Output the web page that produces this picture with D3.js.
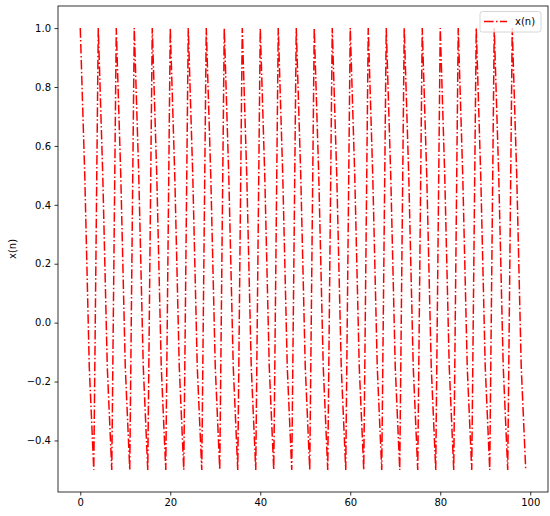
<!DOCTYPE html>
<html>
<head>
<meta charset="utf-8">
<script src="https://cdn.jsdelivr.net/npm/d3@7"></script>
<style>
  html, body { margin: 0; padding: 0; background: #ffffff; }
  svg { display: block; font-family: "DejaVu Sans", sans-serif; }
</style>
</head>
<body>
<div id="chart"></div>
<script>
// Sample values (period of 4 samples)
const xValues = [
  1.0, 0.5, -0.15, -0.5, 1.0, 0.5, -0.15, -0.5, 1.0, 0.5, -0.15, -0.5,
  1.0, 0.5, -0.15, -0.5, 1.0, 0.5, -0.15, -0.5, 1.0, 0.5, -0.15, -0.5,
  1.0, 0.5, -0.15, -0.5, 1.0, 0.5, -0.15, -0.5, 1.0, 0.5, -0.15, -0.5,
  1.0, 0.5, -0.15, -0.5, 1.0, 0.5, -0.15, -0.5, 1.0, 0.5, -0.15, -0.5,
  1.0, 0.5, -0.15, -0.5, 1.0, 0.5, -0.15, -0.5, 1.0, 0.5, -0.15, -0.5,
  1.0, 0.5, -0.15, -0.5, 1.0, 0.5, -0.15, -0.5, 1.0, 0.5, -0.15, -0.5,
  1.0, 0.5, -0.15, -0.5, 1.0, 0.5, -0.15, -0.5, 1.0, 0.5, -0.15, -0.5,
  1.0, 0.5, -0.15, -0.5, 1.0, 0.5, -0.15, -0.5, 1.0, 0.5, -0.15, -0.5,
  1.0, 0.5, -0.15, -0.5
];
const xTicks = [0, 20, 40, 60, 80, 100];
const yTicks = [-0.4, -0.2, 0.0, 0.2, 0.4, 0.6, 0.8, 1.0];
const seriesName = "x(n)";
const yLabel = "x(n)";

const width = 550, height = 516;
const margin = { top: 6, right: 2, bottom: 24, left: 58 };

const svg = d3.select("#chart").append("svg")
    .attr("width", width)
    .attr("height", height);

const n = xValues.length;
const xPad = (n - 1) * 0.05;
const yMin = d3.min(xValues), yMax = d3.max(xValues);
const yPad = (yMax - yMin) * 0.05;

const x = d3.scaleLinear()
    .domain([-xPad, (n - 1) + xPad])
    .range([margin.left, width - margin.right]);
const y = d3.scaleLinear()
    .domain([yMin - yPad, yMax + yPad])
    .range([height - margin.bottom, margin.top]);

const fmtMinus = s => s.replace("-", "\u2212");

// Axes
const xAxis = svg.append("g")
    .attr("transform", `translate(0,${height - margin.bottom})`)
    .call(d3.axisBottom(x).tickValues(xTicks).tickSize(3.5).tickPadding(3.5).tickFormat(d3.format("d")));
const yAxis = svg.append("g")
    .attr("transform", `translate(${margin.left},0)`)
    .call(d3.axisLeft(y).tickValues(yTicks).tickSize(3.5).tickPadding(3.5)
        .tickFormat(d => fmtMinus(d3.format(".1f")(d))));

[xAxis, yAxis].forEach(a => {
    a.select(".domain").remove();
    a.selectAll(".tick line").attr("stroke", "#000").attr("stroke-width", 0.8);
    a.selectAll(".tick text")
        .attr("fill", "#000")
        .attr("font-size", "10px")
        .attr("font-family", "DejaVu Sans, sans-serif");
});

// Line
const line = d3.line()
    .x((d, i) => x(i))
    .y(d => y(d));

svg.append("path")
    .datum(xValues)
    .attr("fill", "none")
    .attr("stroke", "#ff0000")
    .attr("stroke-width", 1.5)
    .attr("stroke-dasharray", "9.6,2.4,1.5,2.4")
    .attr("d", line);

// Frame
svg.append("rect")
    .attr("x", margin.left)
    .attr("y", margin.top)
    .attr("width", width - margin.left - margin.right)
    .attr("height", height - margin.top - margin.bottom)
    .attr("fill", "none")
    .attr("stroke", "#000")
    .attr("stroke-width", 0.8);

// Y label
svg.append("text")
    .attr("transform", `translate(16,${(margin.top + height - margin.bottom) / 2}) rotate(-90)`)
    .attr("text-anchor", "middle")
    .attr("font-size", "10px")
    .attr("fill", "#000")
    .text(yLabel);

// Legend
const lg = svg.append("g").attr("transform", "translate(480,11.5)");
lg.append("rect")
    .attr("width", 61)
    .attr("height", 20.5)
    .attr("rx", 2.5)
    .attr("fill", "rgba(255,255,255,0.8)")
    .attr("stroke", "#cccccc")
    .attr("stroke-width", 0.8);
lg.append("line")
    .attr("x1", 4).attr("x2", 27)
    .attr("y1", 10).attr("y2", 10)
    .attr("stroke", "#ff0000")
    .attr("stroke-width", 1.5)
    .attr("stroke-dasharray", "9.6,2.4,1.5,2.4");
lg.append("text")
    .attr("x", 35)
    .attr("y", 13.8)
    .attr("font-size", "10px")
    .attr("fill", "#000")
    .text(seriesName);
</script>
</body>
</html>
